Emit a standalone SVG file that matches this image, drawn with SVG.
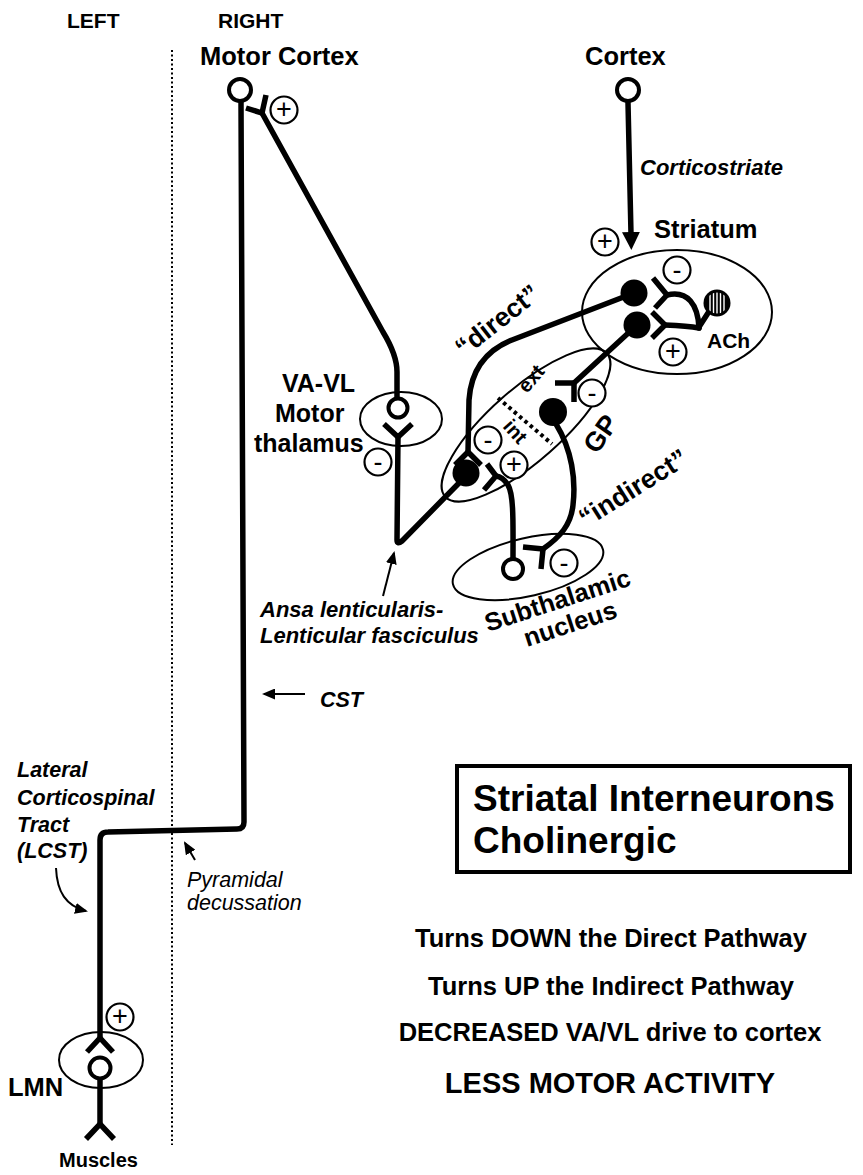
<svg xmlns="http://www.w3.org/2000/svg" width="863" height="1175" viewBox="0 0 863 1175">
<defs>
<style>
text{font-family:"Liberation Sans",Arial,Helvetica,sans-serif;fill:#000;font-weight:bold}
.it{font-style:italic}
.rg{font-weight:normal}
.mid{text-anchor:middle}
.ax{fill:none;stroke:#000;stroke-width:5.5;stroke-linecap:round;stroke-linejoin:round}
.syn{fill:none;stroke:#000;stroke-width:5.5;stroke-linecap:butt;stroke-linejoin:miter}
.soma{fill:#fff;stroke:#000;stroke-width:4}
.bsoma{fill:#000}
.reg{fill:none;stroke:#000;stroke-width:2}
.sg circle{fill:#fff;stroke:#000;stroke-width:2.2}
.sg text{font-size:27px;font-weight:normal;text-anchor:middle;dominant-baseline:central}
.ptr{fill:none;stroke:#000;stroke-width:2}
</style>
<marker id="ah" markerUnits="userSpaceOnUse" markerWidth="13" markerHeight="11" refX="11" refY="5.5" orient="auto"><path d="M0,0 L13,5.5 L0,11 z" fill="#000"/></marker>
<marker id="ahb" markerUnits="userSpaceOnUse" markerWidth="18" markerHeight="18" refX="2" refY="9" orient="auto"><path d="M0,0 L18,9 L0,18 z" fill="#000"/></marker>
<clipPath id="achc"><circle cx="717" cy="303" r="10.5"/></clipPath>
</defs>
<rect width="863" height="1175" fill="#fff"/>

<g id="sides">
<text x="67" y="28" font-size="21">LEFT</text>
<text x="218" y="28" font-size="21">RIGHT</text>
<line x1="172" y1="50" x2="172" y2="1145" stroke="#000" stroke-width="2" stroke-dasharray="2 2.5"/>
</g>

<g id="regions">
<ellipse class="reg" cx="677" cy="312" rx="95" ry="62"/>
<ellipse class="reg" cx="401" cy="419" rx="41" ry="27"/>
<ellipse class="reg" cx="526" cy="425" rx="108" ry="36" transform="rotate(-41.5 526 425)"/>
<ellipse class="reg" cx="528" cy="567" rx="77" ry="29" transform="rotate(-13 528 567)"/>
<ellipse class="reg" cx="101" cy="1060" rx="42" ry="28"/>
<line x1="498" y1="398" x2="552" y2="444" stroke="#000" stroke-width="4" stroke-dasharray="3.5 3.5"/>
</g>

<g id="connectors">
<path class="ax" d="M241,101 L244,822 Q244,829 237,829 L108,832 Q100,832 100,840 L100,1038" stroke-width="6"/>
<path class="ax" d="M262,113 L383,332 Q397,355 397,372 L397,398"/>
<path class="ax" d="M628,103 L631,234" marker-end="url(#ahb)"/>
<path class="ax" d="M398,437 L397,540 Q397,545 402,541 L460,482"/>
<path class="ax" d="M634,293 L512,340 Q472,356 469,400 L468,452"/>
<path class="ax" d="M637,325 L574,383"/>
<path class="ax" d="M556,424 C572,450 576,480 573,505 C571,525 560,537 543,549"/>
<path class="ax" d="M513,558 C513,525 514,495 508,485 Q503,477 496,476"/>
<path class="ax" d="M708,313 L699,327"/>
<path class="ax" d="M699,328 C698,305 688,290 667,295"/>
<path class="ax" d="M699,328 Q688,326 665,325"/>
<path class="ax" d="M100,1079 L100,1124"/>
</g>

<g id="terminals">
<path class="syn" d="M246,108 L262,113 L266,95"/>
<path class="syn" d="M384,424 L398,437 L412,424"/>
<path class="syn" d="M455,465 L468,452 L481,465"/>
<path class="syn" d="M555,383 L574,383 L574,402"/>
<path class="syn" d="M523,547 L543,549 L541,569"/>
<path class="syn" d="M487,464 L496,476 L484,490"/>
<path class="syn" d="M653,278 L667,295 L655,308"/>
<path class="syn" d="M652,312 L665,325 L652,338"/>
<path class="syn" d="M87,1052 L100,1038 L113,1052"/>
<path class="syn" d="M86,1139 L100,1124 L114,1139"/>
</g>

<g id="motor-cortex">
<text x="200" y="65" font-size="25.5">Motor Cortex</text>
<circle class="soma" cx="240" cy="90" r="11"/>
</g>

<g id="cortex">
<text x="585" y="65" font-size="25.5">Cortex</text>
<circle class="soma" cx="628" cy="90" r="11"/>
<text class="it" x="640" y="175" font-size="22">Corticostriate</text>
</g>

<g id="striatum">
<text x="654" y="238" font-size="25.5">Striatum</text>
<circle class="bsoma" cx="634" cy="293" r="13.5"/>
<circle class="bsoma" cx="637" cy="325" r="13.5"/>
<circle class="bsoma" cx="717" cy="303" r="13.5"/>
<g clip-path="url(#achc)" stroke="#fff" stroke-width="1.4">
<line x1="710" y1="290" x2="710" y2="316"/>
<line x1="713.5" y1="290" x2="713.5" y2="316"/>
<line x1="717" y1="290" x2="717" y2="316"/>
<line x1="720.5" y1="290" x2="720.5" y2="316"/>
<line x1="724" y1="290" x2="724" y2="316"/>
</g>
<text x="707" y="348" font-size="21">ACh</text>
</g>

<g id="thalamus">
<text x="282" y="392" font-size="25">VA-VL</text>
<text x="275" y="422" font-size="25">Motor</text>
<text x="254" y="452" font-size="25">thalamus</text>
<circle class="soma" cx="398" cy="408" r="9.5"/>
</g>

<g id="gp">
<circle class="bsoma" cx="466" cy="473" r="13.5"/>
<circle class="bsoma" cx="553" cy="412" r="14"/>
<text x="597" y="455" font-size="27" transform="rotate(-55 597 455)">GP</text>
<text x="527" y="394" font-size="20" transform="rotate(-50 527 394)">ext</text>
<text x="502" y="427" font-size="20" transform="rotate(48 502 427)">int</text>
</g>

<g id="stn">
<circle class="soma" cx="513" cy="569" r="10"/>
<text x="488" y="632" font-size="25.5" transform="rotate(-18 488 632)">Subthalamic</text>
<text x="527" y="647" font-size="25.5" transform="rotate(-18 527 647)">nucleus</text>
</g>

<g id="lmn">
<circle class="soma" cx="100" cy="1068" r="10.5"/>
<text x="8" y="1096" font-size="25.5">LMN</text>
<text x="59" y="1167" font-size="20">Muscles</text>
</g>

<g id="pathway-labels">
<text x="464" y="358" font-size="26.5" transform="rotate(-38 464 358)">“direct”</text>
<text x="586" y="528" font-size="26.5" transform="rotate(-32 586 528)">“indirect”</text>
</g>

<g id="signs">
<g class="sg"><circle cx="284" cy="110" r="13.5"/><text x="284" y="109">+</text></g>
<g class="sg"><circle cx="605" cy="242" r="13.5"/><text x="605" y="241">+</text></g>
<g class="sg"><circle cx="677" cy="270" r="13.5"/><text x="677" y="270">-</text></g>
<g class="sg"><circle cx="673" cy="352" r="13.5"/><text x="673" y="351">+</text></g>
<g class="sg"><circle cx="592" cy="393" r="13.5"/><text x="592" y="393">-</text></g>
<g class="sg"><circle cx="488" cy="440" r="13.5"/><text x="488" y="440">-</text></g>
<g class="sg"><circle cx="514" cy="465" r="13.5"/><text x="514" y="464">+</text></g>
<g class="sg"><circle cx="378" cy="462" r="13.5"/><text x="378" y="462">-</text></g>
<g class="sg"><circle cx="564" cy="563" r="13.5"/><text x="564" y="563">-</text></g>
<g class="sg"><circle cx="120" cy="1017" r="13.5"/><text x="120" y="1016">+</text></g>
</g>

<g id="annotations">
<path class="ptr" d="M383,596 L394,553" marker-end="url(#ah)"/>
<text class="it" x="260" y="617" font-size="22">Ansa lenticularis-</text>
<text class="it" x="260" y="643" font-size="22">Lenticular fasciculus</text>
<path class="ptr" d="M305,694 L264,694" marker-end="url(#ah)"/>
<text class="it" x="320" y="707" font-size="21.5">CST</text>
<text class="it" x="17" y="777" font-size="21.5">Lateral</text>
<text class="it" x="17" y="805" font-size="21.5">Corticospinal</text>
<text class="it" x="17" y="832" font-size="21.5">Tract</text>
<text class="it" x="17" y="858" font-size="21.5">(LCST)</text>
<path class="ptr" d="M56,868 C57,892 66,906 86,911" marker-end="url(#ah)"/>
<path class="ptr" d="M195,860 L185,843" marker-end="url(#ah)"/>
<text class="it rg" x="187" y="887" font-size="21.5">Pyramidal</text>
<text class="it rg" x="187" y="910" font-size="21.5">decussation</text>
</g>

<g id="summary">
<rect x="457" y="766" width="393" height="106" fill="none" stroke="#000" stroke-width="4"/>
<text x="473" y="811" font-size="37">Striatal Interneurons</text>
<text x="473" y="853" font-size="37">Cholinergic</text>
<text class="mid" x="611" y="947" font-size="25.5">Turns DOWN the Direct Pathway</text>
<text class="mid" x="611" y="995" font-size="25.5">Turns UP the Indirect Pathway</text>
<text class="mid" x="610" y="1041" font-size="25.5">DECREASED VA/VL drive to cortex</text>
<text class="mid" x="610" y="1093" font-size="29">LESS MOTOR ACTIVITY</text>
</g>
</svg>
